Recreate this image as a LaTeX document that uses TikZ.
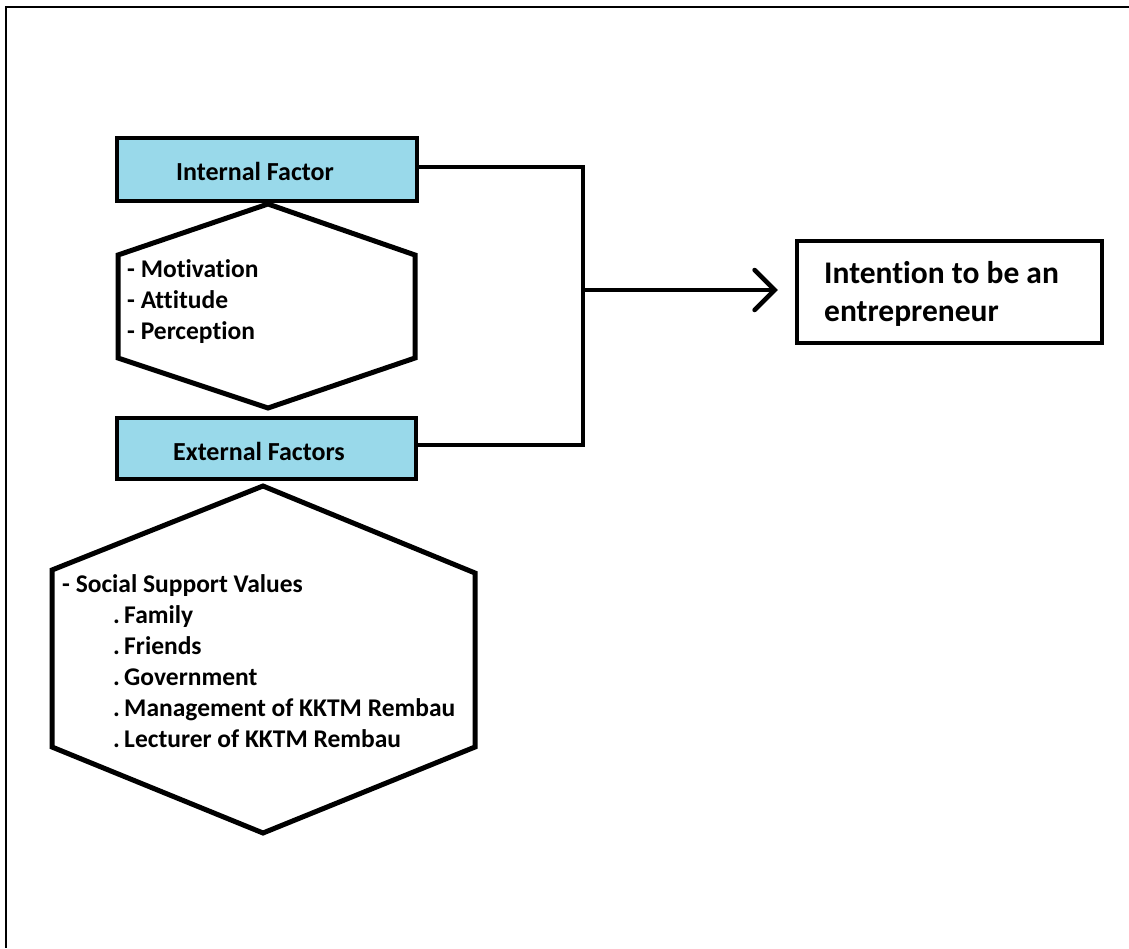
\documentclass[tikz,border=0pt]{standalone}
\usepackage{fontspec}
\setmainfont{Carlito}[Ligatures={NoCommon}]
\usetikzlibrary{arrows.meta}
\definecolor{boxblue}{RGB}{153,217,234}
\tikzset{
  factorbox/.style={draw=black, line width=4.5pt, fill=boxblue},
  hexshape/.style={draw=black, line width=5pt, line join=miter},
  conn/.style={draw=black, line width=4.5pt},
  listtxt/.style={anchor=base west, inner sep=0pt, font=\fontsize{25.5}{30}\selectfont\bfseries},
  boxtxt/.style={anchor=base, inner sep=0pt, font=\fontsize{26}{30}\selectfont\bfseries},
  goaltxt/.style={anchor=base west, inner sep=0pt, font=\fontsize{31.5}{36}\selectfont\bfseries},
  frame/.style={draw=black, line width=2pt}
}
\begin{document}
\begin{tikzpicture}[x=1pt,y=-1pt]
\useasboundingbox (0,0) rectangle (1129,948);
% outer frame (top and left only)
\draw[frame] (1129,7) -- (6,7) -- (6,948);
% boxes
\path[factorbox] (117,138) rectangle (417,201);
\node[inner sep=0pt, minimum width=300pt, minimum height=63pt] (int) at (267,169.5) {};
\path[factorbox] (117,418) rectangle (416,479);
\node[inner sep=0pt, minimum width=299pt, minimum height=61pt] (ext) at (266.5,448.5) {};
\node[boxtxt] (inttxt) at (255,180) {Internal Factor};
\node[boxtxt] (exttxt) at (259,460) {External Factors};
% hexagons
\draw[hexshape] (268,204) -- (415,255) -- (415,358) -- (268,408) -- (118,358) -- (118,255) -- cycle;
\draw[hexshape] (263,486) -- (475,573) -- (475,747) -- (263,833) -- (52,747) -- (52,570) -- cycle;
% list 1
\node[listtxt] (m1) at (127,277) {- Motivation};
\node[listtxt] (m2) at (127,308) {- Attitude};
\node[listtxt] (m3) at (127,339) {- Perception};
% list 2
\node[listtxt] (s0) at (62,592) {- Social Support Values};
\node[listtxt] (s1) at (113,623) {.\,Family};
\node[listtxt] (s2) at (113,654) {.\,Friends};
\node[listtxt] (s3) at (113,685) {.\,Government};
\node[listtxt] (s4) at (113,716) {.\,Management of KKTM Rembau};
\node[listtxt] (s5) at (113,747) {.\,Lecturer of KKTM Rembau};
% goal box
\node[draw=black, line width=4.5pt, minimum width=305pt, minimum height=102pt, inner sep=0pt] (goal) at (949.5,292) {};
\node[goaltxt] (g1) at (824,283) {Intention to be an};
\node[goaltxt] (g2) at (824,321) {entrepreneur};
% connectors
\coordinate (j) at (583,290);
\draw[conn] (int.east |- 0,167) -| (j);
\draw[conn] (ext.east |- 0,445) -| (j);
\draw[conn, -{Straight Barb[length=20pt, width=40pt, line width=4.5pt, line cap=round]}, shorten >=17pt] (j) -- (goal.west |- j);
\end{tikzpicture}
\end{document}
